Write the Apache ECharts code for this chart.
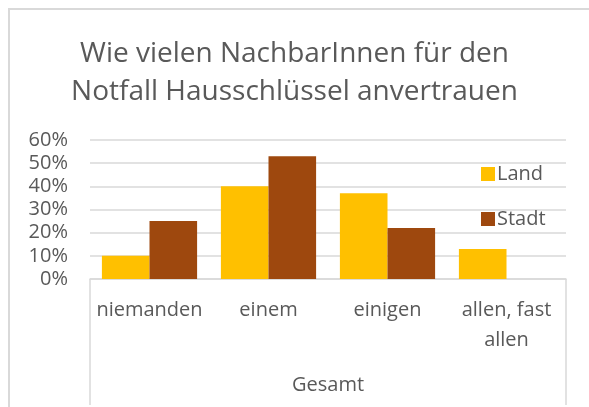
<!DOCTYPE html>
<html>
<head>
<meta charset="utf-8">
<script src="https://cdn.jsdelivr.net/npm/echarts@6/dist/echarts.min.js"></script>
<style>
  html, body { margin: 0; padding: 0; background: #fff; }
  #frame { position: absolute; left: 8px; top: 8px; width: 620px; height: 440px;
           border-left: 2px solid #d9d9d9; border-top: 2px solid #d9d9d9; }
  #main { position: absolute; left: 0; top: 0; width: 589px; height: 407px; }
</style>
</head>
<body>
<div id="frame"></div>
<div id="main"></div>
<script>
// Daten
var categories = ['niemanden', 'einem', 'einigen', 'allen, fast\nallen'];
var land = [0.10, 0.40, 0.37, 0.13];
var stadt = [0.25, 0.53, 0.22, 0];
var groupLabel = ['Gesamt'];

var textColor = '#595959';
var lineColor = '#d9d9d9';
var font = 'Open Sans';

var myChart = echarts.init(document.getElementById('main'));

myChart.setOption({
    title: {
        text: 'Wie vielen NachbarInnen für den\nNotfall Hausschlüssel anvertrauen',
        left: 'center',
        top: 30,
        textStyle: {
            fontFamily: font,
            fontWeight: 'normal',
            fontSize: 28,
            lineHeight: 38,
            color: textColor
        }
    },
    legend: {
        data: ['Land', 'Stadt'],
        orient: 'vertical',
        left: 476,
        top: 159,
        itemWidth: 14,
        itemHeight: 14,
        itemGap: 25,
        icon: 'rect',
        textStyle: {
            fontFamily: font,
            fontSize: 20,
            color: textColor,
            padding: [0, 0, 0, -3]
        }
    },
    grid: {
        left: 90,
        right: 23,
        top: 140,
        bottom: 128
    },
    xAxis: [
        {
            type: 'category',
            data: categories,
            axisLine: { lineStyle: { color: lineColor, width: 1.5 } },
            axisTick: { show: false },
            axisLabel: {
                interval: 0,
                fontFamily: font,
                fontSize: 20,
                lineHeight: 30,
                color: textColor,
                margin: 16
            }
        },
        {
            type: 'category',
            data: groupLabel,
            position: 'bottom',
            axisLine: { show: false },
            axisTick: { show: true, length: 126, lineStyle: { color: lineColor, width: 1.5 } },
            axisLabel: {
                fontFamily: font,
                fontSize: 20,
                color: textColor,
                margin: 96
            }
        }
    ],
    yAxis: {
        type: 'value',
        min: 0,
        max: 0.6,
        interval: 0.1,
        axisLine: { show: false },
        axisTick: { show: false },
        splitLine: { lineStyle: { color: lineColor, width: 1.5 } },
        axisLabel: {
            fontFamily: font,
            fontSize: 20,
            color: textColor,
            margin: 22,
            formatter: function (v) { return Math.round(v * 100) + '%'; }
        }
    },
    series: [
        {
            name: 'Land',
            type: 'bar',
            data: land,
            barGap: '0%',
            barCategoryGap: '20%',
            itemStyle: { color: '#ffc000' }
        },
        {
            name: 'Stadt',
            type: 'bar',
            data: stadt,
            itemStyle: { color: '#9e480e' }
        }
    ]
});
</script>
</body>
</html>
